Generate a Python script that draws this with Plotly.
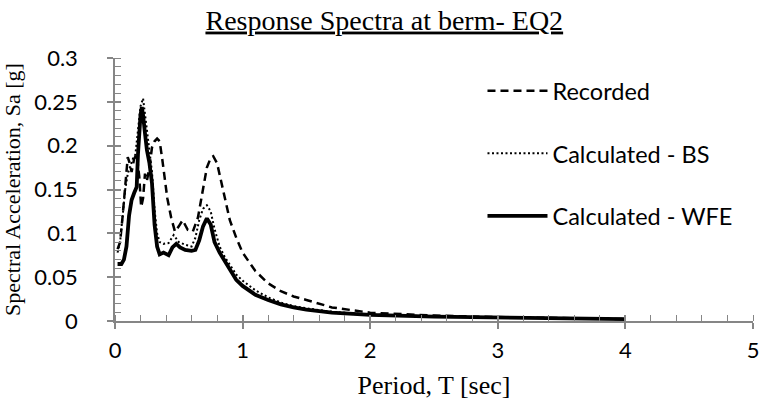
import plotly.graph_objects as go

# Recorded
period_rec = [0.02,0.04,0.06,0.08,0.1,0.115,0.13,0.15,0.17,0.19,0.205,0.22,0.235,0.25,0.27,0.29,0.31,0.33,0.35,0.37,0.39,0.41,0.44,0.47,0.5,0.53,0.57,0.61,0.65,0.69,0.72,0.75,0.77,0.8,0.83,0.86,0.9,0.95,1.0,1.1,1.2,1.3,1.4,1.5,1.7,2.0,2.5,3.0,3.5,4.0]
sa_rec = [0.082,0.09,0.12,0.155,0.187,0.18,0.17,0.185,0.19,0.165,0.13,0.14,0.168,0.16,0.175,0.198,0.205,0.208,0.205,0.185,0.165,0.14,0.118,0.102,0.108,0.115,0.104,0.102,0.118,0.15,0.175,0.186,0.188,0.18,0.16,0.14,0.115,0.095,0.078,0.057,0.043,0.034,0.028,0.024,0.0155,0.0095,0.0062,0.0045,0.0032,0.0022]

# Calculated - BS
period_bs = [0.02,0.04,0.06,0.08,0.1,0.12,0.14,0.16,0.18,0.2,0.22,0.235,0.25,0.27,0.29,0.31,0.33,0.35,0.38,0.42,0.46,0.5,0.55,0.6,0.63,0.66,0.69,0.72,0.75,0.78,0.82,0.86,0.9,0.95,1.0,1.1,1.2,1.3,1.4,1.5,1.7,2.0,2.5,3.0,3.5,4.0]
sa_bs = [0.078,0.09,0.12,0.15,0.168,0.178,0.185,0.19,0.22,0.245,0.254,0.235,0.215,0.195,0.17,0.127,0.1,0.09,0.088,0.089,0.098,0.09,0.087,0.085,0.095,0.115,0.128,0.132,0.125,0.105,0.085,0.073,0.064,0.053,0.046,0.035,0.027,0.021,0.017,0.0145,0.0105,0.0075,0.0052,0.004,0.003,0.0022]

# Calculated - WFE
period_wfe = [0.02,0.05,0.07,0.09,0.11,0.13,0.15,0.17,0.18,0.19,0.2,0.21,0.22,0.235,0.25,0.27,0.29,0.31,0.33,0.35,0.38,0.42,0.45,0.48,0.51,0.55,0.6,0.63,0.66,0.69,0.72,0.75,0.78,0.82,0.86,0.9,0.95,1.0,1.1,1.2,1.3,1.4,1.5,1.7,2.0,2.5,3.0,3.5,4.0]
sa_wfe = [0.065,0.065,0.07,0.085,0.12,0.138,0.146,0.153,0.19,0.225,0.235,0.244,0.235,0.214,0.195,0.18,0.157,0.11,0.085,0.076,0.078,0.075,0.084,0.088,0.084,0.081,0.08,0.081,0.092,0.108,0.117,0.11,0.09,0.078,0.068,0.058,0.047,0.04,0.03,0.024,0.019,0.0155,0.013,0.0095,0.007,0.005,0.0038,0.003,0.0022]

x_ticks = [0, 1, 2, 3, 4, 5]
y_ticks = [0, 0.05, 0.1, 0.15, 0.2, 0.25, 0.3]
y_tick_labels = ["0", "0.05", "0.1", "0.15", "0.2", "0.25", "0.3"]

AX = "#868686"
SANS = "Lato, Open Sans, sans-serif"
TICKFONT = dict(family=SANS, size=22, color="black")
SERIF = "Liberation Serif, Times New Roman, serif"

fig = go.Figure()
fig.add_trace(go.Scatter(x=period_rec, y=sa_rec, mode="lines", name="Recorded",
                         legendgroup="a", line=dict(color="black", width=2.5, dash="8px,5px")))
fig.add_trace(go.Scatter(x=period_bs, y=sa_bs, mode="lines", name="Calculated - BS",
                         legendgroup="b", line=dict(color="black", width=2, dash="2px,2.5px")))
fig.add_trace(go.Scatter(x=period_wfe, y=sa_wfe, mode="lines", name="Calculated - WFE",
                         legendgroup="c", line=dict(color="black", width=3.8)))

fig.update_layout(
    width=764, height=412,
    margin=dict(l=115, r=11, t=58, b=91),
    paper_bgcolor="white", plot_bgcolor="white",
    title=dict(text="<u>Response Spectra at berm- EQ2</u>", x=0.503, xanchor="center",
               y=0.952, yanchor="middle",
               font=dict(family=SERIF, size=28, color="black")),
    xaxis=dict(range=[0, 5], tickvals=x_ticks, showgrid=False, zeroline=False,
               showline=True, linecolor=AX, linewidth=1.5,
               ticks="outside", ticklen=6, tickcolor=AX, tickwidth=1.5,
               minor=dict(dtick=0.2, ticks="inside", ticklen=6, tickcolor=AX, tickwidth=1),
               tickfont=TICKFONT, automargin=False, ticklabelstandoff=3,
               title=dict(text="Period, T [sec]", font=dict(family=SERIF, size=26, color="black"),
                          standoff=14)),
    yaxis=dict(range=[0, 0.3], tickvals=y_ticks, ticktext=y_tick_labels, showgrid=False,
               zeroline=False, showline=True, linecolor=AX, linewidth=1.5,
               ticks="outside", ticklen=6, tickcolor=AX, tickwidth=1.5,
               minor=dict(dtick=0.01, ticks="inside", ticklen=6, tickcolor=AX, tickwidth=1),
               tickfont=TICKFONT, automargin=True, ticklabelstandoff=25,
               title=dict(text="Spectral Acceleration, Sa [g]",
                          font=dict(family=SERIF, size=22, color="black"), standoff=8)),
    xaxis2=dict(range=[0, 5], overlaying="x", tickvals=x_ticks, showticklabels=False,
                showgrid=False, zeroline=False, ticks="inside", ticklen=6, tickcolor=AX,
                tickwidth=1.5, side="bottom", showline=False),
    yaxis2=dict(range=[0, 0.3], overlaying="y", tickvals=y_ticks, showticklabels=False,
                showgrid=False, zeroline=False, ticks="inside", ticklen=6, tickcolor=AX,
                tickwidth=1.5, side="left", showline=False),
    legend=dict(x=0.576, y=0.958, xanchor="left", yanchor="top", itemwidth=60,
                font=dict(family=SANS, size=23.5, color="black"),
                bgcolor="rgba(0,0,0,0)", tracegroupgap=29, traceorder="grouped"),
    showlegend=True,
)
# invisible trace to anchor overlay axes
fig.add_trace(go.Scatter(x=[0], y=[0], xaxis="x2", yaxis="y2", mode="markers",
                         marker=dict(opacity=0), showlegend=False, hoverinfo="skip"))

fig.write_html("out.html", config={"displayModeBar": False},
               post_script="document.body.style.margin='0px';document.body.style.overflow='hidden';")
